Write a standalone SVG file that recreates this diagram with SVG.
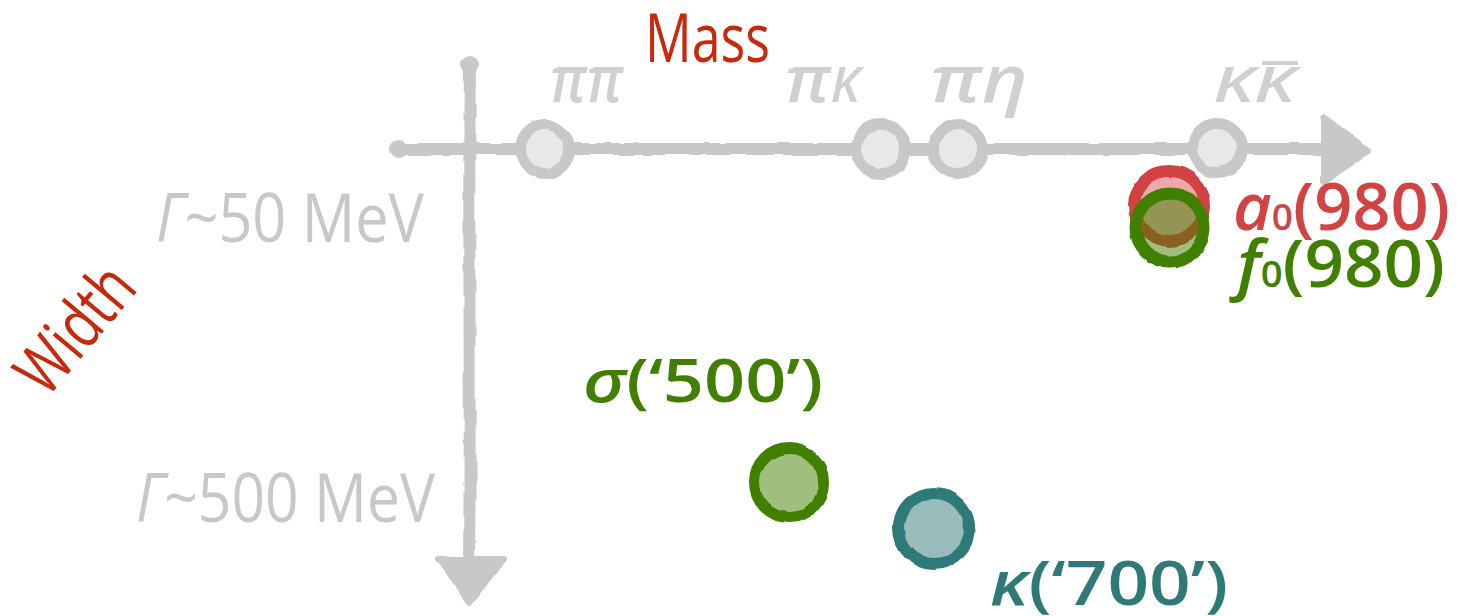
<svg xmlns="http://www.w3.org/2000/svg" width="1460" height="616" viewBox="0 0 1460 616">
  <defs>
    <filter id="rough" filterUnits="userSpaceOnUse" x="0" y="0" width="1460" height="616">
      <feTurbulence type="fractalNoise" baseFrequency="0.035" numOctaves="2" seed="3" result="n"/>
      <feDisplacementMap in="SourceGraphic" in2="n" scale="5" xChannelSelector="R" yChannelSelector="G"/>
    </filter>
  </defs>
  <style>
    .axis { stroke: #c8c8c8; stroke-width: 12; fill: none; stroke-linecap: round; }
    .head { fill: #c8c8c8; stroke: #c8c8c8; stroke-width: 6; stroke-linejoin: round; }
    .tick { fill: #e8e8e8; stroke: #c8c8c8; stroke-width: 11; }
    .chan { font-family: "Open Sans", "DejaVu Sans", sans-serif; font-weight: 600; font-style: italic; fill: #d0d0d0; }
    .gam { font-family: "Open Sans", "DejaVu Sans", sans-serif; fill: #c8c8c8; font-size: 68px; }
    .title { font-family: "Open Sans", "DejaVu Sans", sans-serif; fill: #c8290c; font-size: 68px; }
    .lab { font-family: "Open Sans", "DejaVu Sans", sans-serif; font-weight: 600; }
    .red { fill: #d24343; }
    .green { fill: #417f00; }
    .teal { fill: #2f7a78; }
  </style>

  <g id="connectors" filter="url(#rough)">
    <path class="axis" d="M398,149 C600,147 900,151 1326,149"/>
    <circle cx="399" cy="149" r="9" fill="#c8c8c8"/>
    <polygon class="head" points="1324,118 1368,150 1324,182"/>
    <path class="axis" d="M470,64 C468,200 471,400 469,560"/>
    <circle cx="470" cy="65" r="9" fill="#c8c8c8"/>
    <polygon class="head" points="439,559 503,559 470,602"/>
  </g>

  <g id="title-mass">
    <text class="title" x="645" y="62" textLength="125" lengthAdjust="spacingAndGlyphs">Mass</text>
  </g>
  <g id="title-width">
    <text class="title" transform="translate(93,344) rotate(-50)" x="0" y="0" text-anchor="middle" textLength="144" lengthAdjust="spacingAndGlyphs">Width</text>
  </g>
  <g id="gamma-50">
    <text class="gam" x="156" y="242" textLength="268" lengthAdjust="spacingAndGlyphs"><tspan font-style="italic">Γ</tspan>~50 MeV</text>
  </g>
  <g id="gamma-500">
    <text class="gam" x="136" y="522" textLength="299" lengthAdjust="spacingAndGlyphs"><tspan font-style="italic">Γ</tspan>~500 MeV</text>
  </g>

  <g id="node-pipi">
    <circle class="tick" cx="545" cy="149" r="24.5" filter="url(#rough)"/>
    <text class="chan" x="550" y="102" font-size="66" textLength="73" lengthAdjust="spacingAndGlyphs">ππ</text>
  </g>
  <g id="node-piK">
    <circle class="tick" cx="881" cy="149" r="24.5" filter="url(#rough)"/>
    <text class="chan" x="785" y="102" textLength="75" lengthAdjust="spacingAndGlyphs"><tspan font-size="66">π</tspan><tspan font-size="48">K</tspan></text>
  </g>
  <g id="node-pieta">
    <circle class="tick" cx="958" cy="149" r="24.5" filter="url(#rough)"/>
    <text class="chan" x="930" y="102" font-size="66" textLength="98" lengthAdjust="spacingAndGlyphs">πη</text>
  </g>
  <g id="node-KKbar">
    <circle class="tick" cx="1217" cy="148" r="24.5" filter="url(#rough)"/>
    <text class="chan" x="1213" y="102" font-size="48" textLength="82" lengthAdjust="spacingAndGlyphs">KK</text>
    <line x1="1262" y1="63" x2="1298" y2="63" stroke="#d0d0d0" stroke-width="4"/>
  </g>

  <g id="node-a0">
    <circle cx="1169" cy="206" r="35" fill="#d24343" fill-opacity="0.45" stroke="#d24343" stroke-width="12" filter="url(#rough)"/>
    <text class="lab red" x="1233" y="230" font-size="65" textLength="217" lengthAdjust="spacingAndGlyphs"><tspan font-style="italic">a</tspan><tspan font-size="36">0</tspan>(980)</text>
  </g>
  <g id="node-f0">
    <circle cx="1170" cy="228" r="34.5" fill="#417f00" fill-opacity="0.5" stroke="#417f00" stroke-width="12" filter="url(#rough)"/>
    <text class="lab green" x="1237" y="287" font-size="65" textLength="208" lengthAdjust="spacingAndGlyphs"><tspan font-style="italic">f</tspan><tspan font-size="36">0</tspan>(980)</text>
  </g>
  <g id="node-sigma">
    <circle cx="789" cy="483" r="34.5" fill="#417f00" fill-opacity="0.5" stroke="#417f00" stroke-width="11" filter="url(#rough)"/>
    <text class="lab green" x="583" y="402" font-size="60" textLength="240" lengthAdjust="spacingAndGlyphs"><tspan font-style="italic">σ</tspan>(‘500’)</text>
  </g>
  <g id="node-kappa">
    <circle cx="934" cy="528" r="35" fill="#2f7a78" fill-opacity="0.5" stroke="#2f7a78" stroke-width="12" filter="url(#rough)"/>
    <text class="lab teal" x="990" y="605" font-size="61" textLength="238" lengthAdjust="spacingAndGlyphs"><tspan font-style="italic">κ</tspan>(‘700’)</text>
  </g>
</svg>
